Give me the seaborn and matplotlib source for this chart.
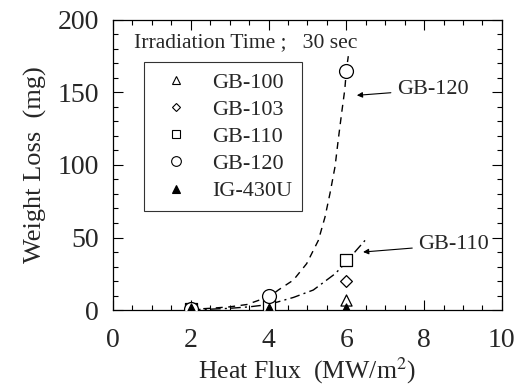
import matplotlib
matplotlib.use("Agg")
import matplotlib.pyplot as plt
from matplotlib.ticker import MultipleLocator
import seaborn as sns
import pandas as pd

# ---- data ----
heat_flux = [2, 4, 6]
gb100 = [0.3, 0.5, 7]
gb103 = [0.5, 1.0, 20]
gb110 = [0.5, 3.5, 34.5]
gb120 = [1.0, 9.5, 165]
ig430u = [0.8, 0.8, 0.8]

# fitted curves
fit120_x = [2.0, 2.5, 3.0, 3.44, 4.04, 4.25, 4.64, 4.98, 5.28, 5.45, 5.58, 5.71, 5.79, 5.88, 5.96, 6.0, 6.05]
fit120_y = [0.5, 1.2, 2.2, 3.8, 9.5, 13.8, 20.7, 32, 48, 64, 80.5, 99, 117, 136, 152, 165, 175]
fit110_x = [2.0, 2.5, 3.0, 3.5, 4.0, 4.25, 4.64, 5.15, 5.71, 6.0, 6.25, 6.48]
fit110_y = [0.3, 0.6, 1.2, 2.2, 3.8, 5.7, 8.7, 13.8, 25, 33, 41, 48]

sns.set_style("ticks")
plt.rcParams["font.family"] = ["Liberation Serif", "DejaVu Serif"]
plt.rcParams["mathtext.fontset"] = "stix"

fig = plt.figure(figsize=(5.22, 3.9), dpi=100)
ax = fig.add_axes([0.2165, 0.205, 0.745, 0.744])

# fit lines
sns.lineplot(x=fit120_x, y=fit120_y, ax=ax, color="black", lw=1.0,
             linestyle=(0, (5, 4)), sort=False, legend=False)
sns.lineplot(x=fit110_x, y=fit110_y, ax=ax, color="black", lw=1.0,
             linestyle=(0, (7, 3, 1.5, 3)), sort=False, legend=False)

series = [
    ("GB-100", gb100, "^", "white", 8),
    ("GB-103", gb103, "D", "white", 6),
    ("GB-110", gb110, "s", "white", 9),
    ("GB-120", gb120, "o", "white", 10),
    ("IG-430U", ig430u, "^", "black", 8),
]
handles = []
for name, vals, mk, fc, ms in series:
    df = pd.DataFrame({"x": heat_flux, "y": vals})
    sns.scatterplot(data=df, x="x", y="y", ax=ax, marker=mk, s=ms**2,
                    facecolor=fc, edgecolor="black", linewidth=0.9,
                    zorder=3, legend=False)
    h, = ax.plot([], [], linestyle="none", marker=mk, markersize=ms * 0.7,
                 markerfacecolor=fc, markeredgecolor="black",
                 markeredgewidth=0.8, label=name)
    handles.append(h)

ax.set_xlim(0, 10)
ax.set_ylim(0, 200)
ax.xaxis.set_major_locator(MultipleLocator(2))
ax.xaxis.set_minor_locator(MultipleLocator(0.5))
ax.yaxis.set_major_locator(MultipleLocator(50))
ax.yaxis.set_minor_locator(MultipleLocator(10))
ax.tick_params(which="both", direction="in", top=True, right=True,
               color="black", width=0.8)
ax.tick_params(which="major", length=7, labelsize=20)
ax.tick_params(axis="x", which="major", pad=13)
ax.tick_params(axis="y", which="major", pad=10)
ax.tick_params(which="minor", length=3.5)
for s in ax.spines.values():
    s.set_color("black")
    s.set_linewidth(0.9)

ax.set_xlabel("Heat Flux  (MW/m$^2$)", fontsize=18.5, labelpad=2)
ax.set_ylabel("Weight Loss  (mg)", fontsize=19, labelpad=8)

ax.text(0.55, 184, "Irradiation Time ;   30 sec", fontsize=15.6, va="center",
        ha="left")

leg = ax.legend(handles=handles, loc="upper left",
                bbox_to_anchor=(0.08, 0.855), borderaxespad=0,
                fontsize=16, frameon=True, fancybox=False,
                handletextpad=0.6, labelspacing=0.3, borderpad=0.45,
                handlelength=2.0)
leg.get_frame().set_edgecolor("black")
leg.get_frame().set_linewidth(0.8)

ax.annotate("GB-120", xy=(6.27, 148), xytext=(7.3, 152), fontsize=16,
            va="center", ha="left",
            arrowprops=dict(arrowstyle="-|>", color="black", lw=0.8,
                            mutation_scale=8, shrinkA=2, shrinkB=0))
ax.annotate("GB-110", xy=(6.43, 40), xytext=(7.85, 45), fontsize=16,
            va="center", ha="left",
            arrowprops=dict(arrowstyle="-|>", color="black", lw=0.8,
                            mutation_scale=8, shrinkA=2, shrinkB=0))

fig.savefig("out.png", dpi=100)
